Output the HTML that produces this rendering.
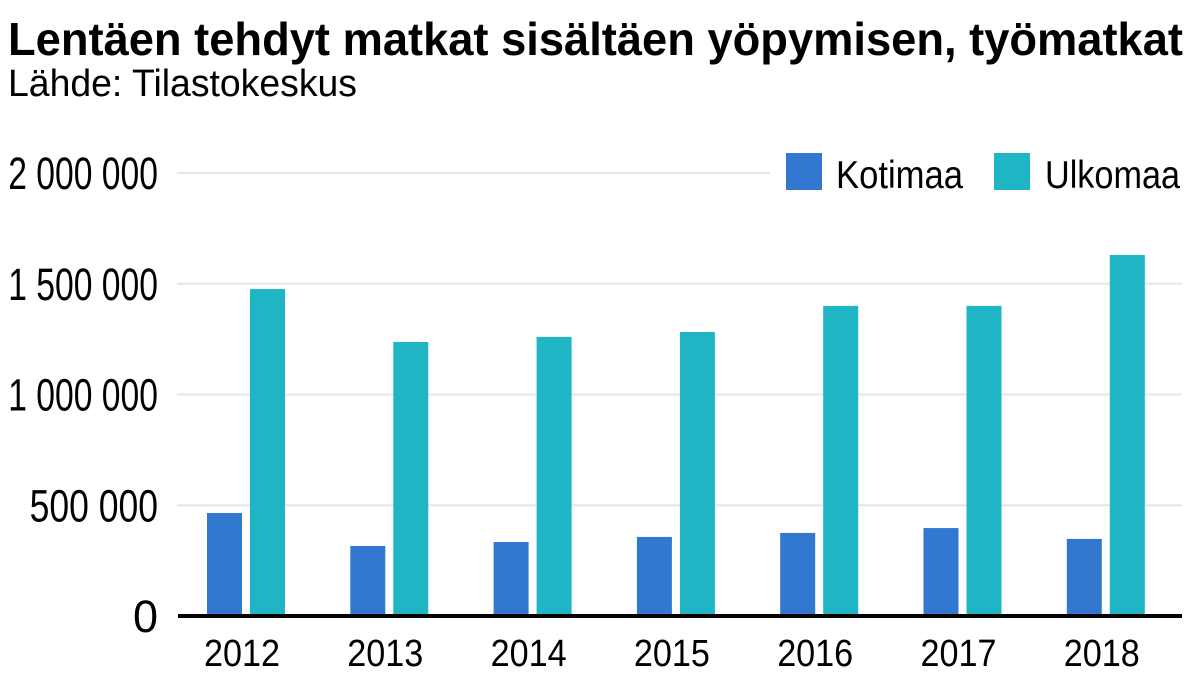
<!DOCTYPE html>
<html><head><meta charset="utf-8"><style>
html,body{margin:0;padding:0;background:#fff;}
svg{display:block;font-family:"Liberation Sans",sans-serif;}
</style></head><body>
<svg id="chart" width="1199" height="675" viewBox="0 0 1199 675">
<text x="8" y="55" font-size="46" font-weight="bold" textLength="1175" lengthAdjust="spacingAndGlyphs" fill="#000">Lentäen tehdyt matkat sisältäen yöpymisen, työmatkat</text>
<text x="8" y="96" font-size="38" textLength="349" lengthAdjust="spacingAndGlyphs" fill="#000">Lähde: Tilastokeskus</text>
<g id="grid"></g>
<g id="bars"></g>
<g id="xlabels"></g>
<line x1="178" y1="616" x2="1182" y2="616" stroke="#000" stroke-width="4"/>
<g>
<rect x="770" y="145" width="420" height="55" fill="#fff"/>
<rect x="786" y="153" width="36" height="37" fill="#3278d0"/>
<text x="836" y="188" font-size="39" textLength="127" lengthAdjust="spacingAndGlyphs">Kotimaa</text>
<rect x="994" y="153" width="36" height="37" fill="#1fb5c4"/>
<text x="1045" y="188" font-size="39" textLength="135" lengthAdjust="spacingAndGlyphs">Ulkomaa</text>
</g>
</svg>
<script>
const years = ["2012","2013","2014","2015","2016","2017","2018"];
const kotimaa = [465000,316000,334000,357000,375000,397000,348000];
const ulkomaa = [1476000,1237000,1260000,1282000,1400000,1400000,1630000];
const yTicks = [0,500000,1000000,1500000,2000000];
const yTickLabels = ["0","500 000","1 000 000","1 500 000","2 000 000"];

const NS="http://www.w3.org/2000/svg";
const y0=616, yTop=173, yMax=2000000;
function yScale(v){return y0-(v/yMax)*(y0-yTop);}
const groupStart=246, groupStep=143.3;
function xCenter(i){return groupStart+i*groupStep;}
const grid=document.getElementById('grid');
yTicks.forEach((t,i)=>{
  if(t>0){
    const l=document.createElementNS(NS,'line');
    l.setAttribute('x1',177);l.setAttribute('x2',1182);
    l.setAttribute('y1',yScale(t));l.setAttribute('y2',yScale(t));
    l.setAttribute('stroke','#e6e6e6');l.setAttribute('stroke-width',2);
    
    
    grid.appendChild(l);
  }
  const tx=document.createElementNS(NS,'text');
  tx.setAttribute('x',158);tx.setAttribute('y',yScale(t)+16);
  tx.setAttribute('text-anchor','end');tx.setAttribute('font-size',45);
  const lab=yTickLabels[i];
  const nd=lab.replace(/\s/g,'').length;
  if(nd>1){tx.setAttribute('textLength',nd*21.4);tx.setAttribute('lengthAdjust','spacingAndGlyphs');}
  tx.textContent=lab;
  
  
  grid.appendChild(tx);
});
const bars=document.getElementById('bars');
const xl=document.getElementById('xlabels');
years.forEach((yr,i)=>{
  const c=xCenter(i);
  [[kotimaa[i],c-39,'#3278d0','bar-kotimaa-'+yr],[ulkomaa[i],c+4,'#1fb5c4','bar-ulkomaa-'+yr]].forEach(([v,x,col,nm])=>{
    const r=document.createElementNS(NS,'rect');
    r.setAttribute('x',x);r.setAttribute('width',35);
    r.setAttribute('y',yScale(v));r.setAttribute('height',y0-yScale(v));
    r.setAttribute('fill',col);
    
    
    bars.appendChild(r);
  });
  const t=document.createElementNS(NS,'text');
  t.setAttribute('x',c-4);t.setAttribute('y',666);
  t.setAttribute('text-anchor','middle');t.setAttribute('font-size',38);
  t.setAttribute('textLength',76);t.setAttribute('lengthAdjust','spacingAndGlyphs');
  t.textContent=yr;
  
  
  xl.appendChild(t);
});
</script>
</body></html>
